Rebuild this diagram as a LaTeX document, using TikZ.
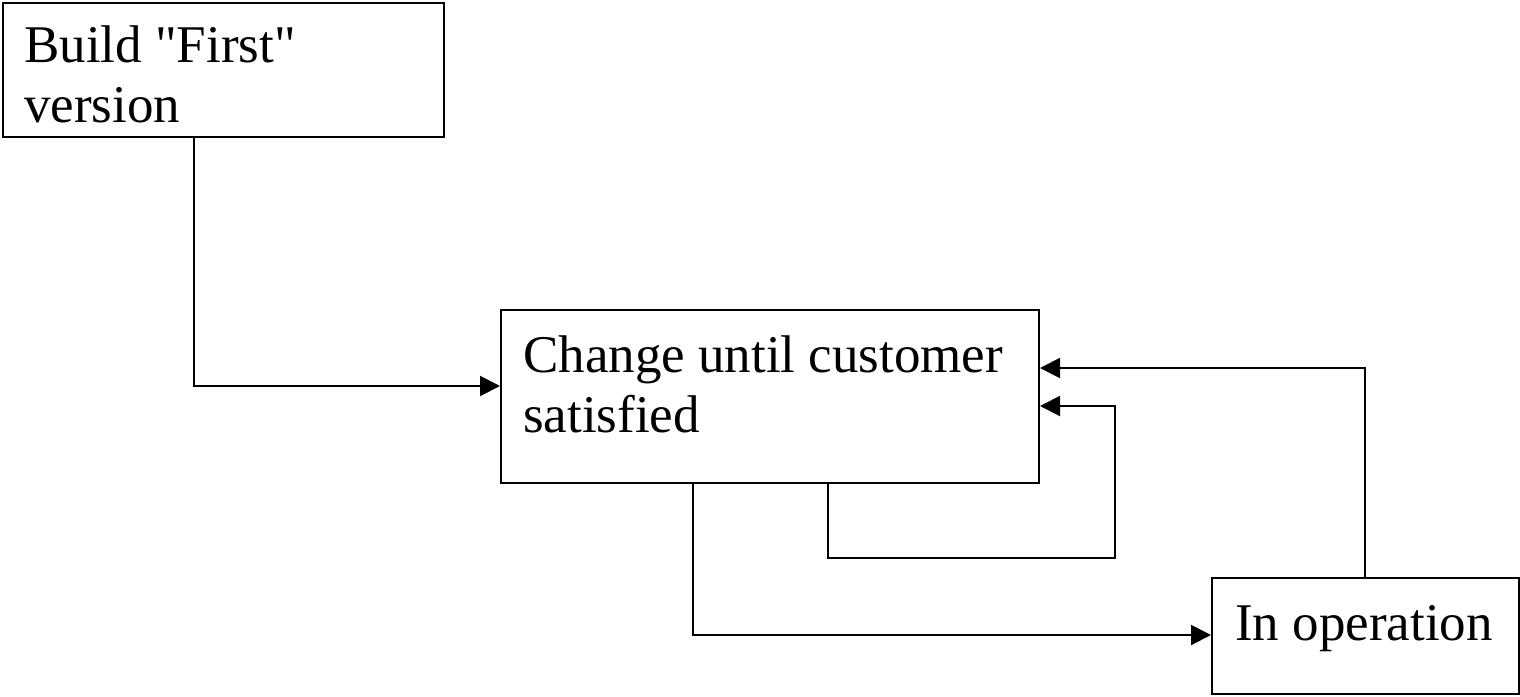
\documentclass[tikz,border=0pt]{standalone}
\usepackage{fontspec}
\setmainfont{Liberation Serif}[Ligatures=TeXOff]
\usetikzlibrary{arrows.meta}
\begin{document}
\begin{tikzpicture}[x=1pt,y=-1pt,
  box/.style={draw,line width=2pt,inner sep=0pt,minimum width=#1},
  lbl/.style={anchor=base west,inner sep=0pt,align=left,font=\fontsize{53}{60}\selectfont},
  arr/.style={line width=2pt,-{Triangle[length=20pt,width=20pt]}}]
\useasboundingbox (0,0) rectangle (1520,696);
\node[box=441pt,minimum height=134pt] (b1) at (223.5,70) {};
\node[box=538pt,minimum height=173pt] (b2) at (770,396.5) {};
\node[box=307pt,minimum height=116pt] (b3) at (1365.5,636) {};
\node[lbl] (t1) at (24,122) {Build "First"\\version};
\node[lbl] (t2) at (523,432) {Change until customer\\satisfied};
\node[lbl] (t3) at (1235,640) {In operation};
\coordinate (c1) at (194,386);
\coordinate (c2) at (693,635);
\coordinate (c3) at (828,558);
\coordinate (c4) at (1115,406);
\coordinate (c5) at (1365,368);
\draw[arr] (c1 |- b1.south) |- (b2.west |- c1);
\draw[arr] (c2 |- b2.south) |- (b3.west |- c2);
\draw[arr] (c3 |- b2.south) -- (c3) -| (c4) -- (b2.east |- c4);
\draw[arr] (c5 |- b3.north) -- (c5) -- (b2.east |- c5);
\end{tikzpicture}
\end{document}
